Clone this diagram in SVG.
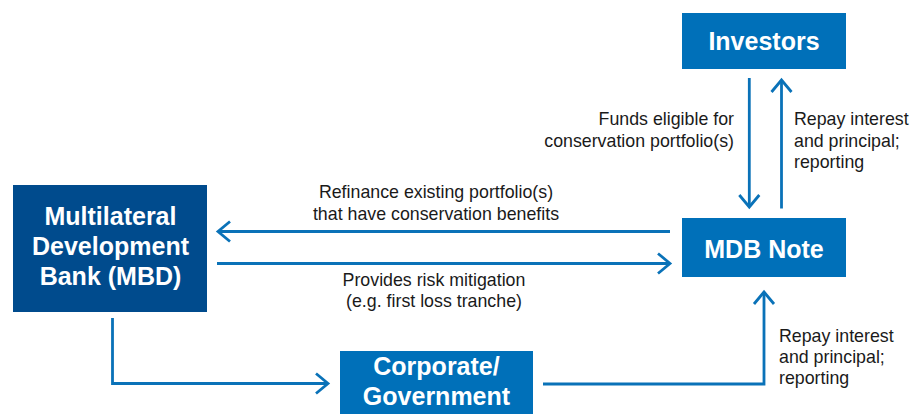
<svg xmlns="http://www.w3.org/2000/svg" width="911" height="414" viewBox="0 0 911 414">
  <defs>
    <style>
      .box { fill: #0070b9; }
      .dark { fill: #004b8d; }
      .bt { font-family: "Liberation Sans", Arial, sans-serif; font-weight: bold; font-size: 25px; fill: #ffffff; text-anchor: middle; }
      .lbl { font-family: "Liberation Sans", Arial, sans-serif; font-size: 17.8px; fill: #1a1a1a; }
      .ln { fill: none; stroke: #0a72b8; stroke-width: 2.8; }
    </style>
    <marker id="ah" markerUnits="userSpaceOnUse" markerWidth="30" markerHeight="30" refX="0" refY="0" viewBox="-15 -15 30 30" orient="auto" overflow="visible">
      <path d="M -12 -10 L 0 0 L -12 10" fill="none" stroke="#0a72b8" stroke-width="2.8"/>
    </marker>
  </defs>
  <rect width="911" height="414" fill="#ffffff"/>

  <g id="connectors">
    <path class="ln" d="M 670 231.5 L 218 231.5" marker-end="url(#ah)"/>
    <path class="ln" d="M 217 263.5 L 670 263.5" marker-end="url(#ah)"/>
    <path class="ln" d="M 749.3 78 L 749.3 207" marker-end="url(#ah)"/>
    <path class="ln" d="M 781.5 208.5 L 781.5 80" marker-end="url(#ah)"/>
    <path class="ln" d="M 112.5 318 L 112.5 383.5 L 328 383.5" marker-end="url(#ah)"/>
    <path class="ln" d="M 543 384 L 764 384 L 764 292" marker-end="url(#ah)"/>
  </g>

  <g id="labels">
    <text class="lbl" text-anchor="end" x="734" y="125">Funds eligible for</text>
    <text class="lbl" text-anchor="end" x="734" y="146.5">conservation portfolio(s)</text>
    <text class="lbl" x="794" y="125">Repay interest</text>
    <text class="lbl" x="794" y="146.5">and principal;</text>
    <text class="lbl" x="794" y="168">reporting</text>
    <text class="lbl" text-anchor="middle" x="436" y="198">Refinance existing portfolio(s)</text>
    <text class="lbl" text-anchor="middle" x="436" y="220">that have conservation benefits</text>
    <text class="lbl" text-anchor="middle" x="434" y="285.5">Provides risk mitigation</text>
    <text class="lbl" text-anchor="middle" x="434" y="306.5">(e.g. first loss tranche)</text>
    <text class="lbl" x="779" y="342">Repay interest</text>
    <text class="lbl" x="779" y="363">and principal;</text>
    <text class="lbl" x="779" y="384">reporting</text>
  </g>

  <g id="mbd">
    <rect class="dark" x="13" y="185" width="194" height="127"/>
    <text class="bt" x="110.5" y="225">Multilateral</text>
    <text class="bt" x="110.5" y="255">Development</text>
    <text class="bt" x="110.5" y="285">Bank (MBD)</text>
  </g>

  <g id="investors">
    <rect class="box" x="682" y="13" width="164" height="56"/>
    <text class="bt" x="764" y="50">Investors</text>
  </g>

  <g id="mdb-note">
    <rect class="box" x="682" y="218" width="164" height="59"/>
    <text class="bt" x="764" y="258">MDB Note</text>
  </g>

  <g id="corporate">
    <rect class="box" x="340" y="351" width="193" height="70"/>
    <text class="bt" x="436.5" y="375">Corporate/</text>
    <text class="bt" x="436.5" y="405">Government</text>
  </g>
</svg>
